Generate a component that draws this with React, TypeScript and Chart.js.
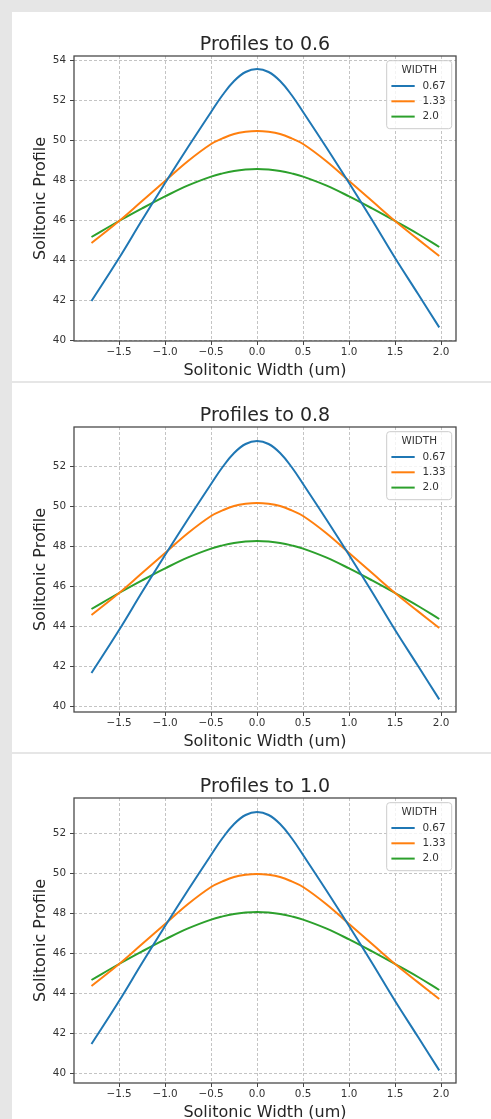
import React, { useEffect, useRef } from 'react';
import { Chart, registerables } from 'chart.js';

Chart.register(...registerables);

const FONT = '"DejaVu Sans", "Liberation Sans", sans-serif';

const xValues = [-1.8, -1.5, -1.25, -1.0, -0.75, -0.5, -0.375, -0.25, -0.125, 0, 0.125, 0.25, 0.375, 0.5, 0.75, 1.0, 1.25, 1.5, 1.75, 1.98];
const seriesLabels = ['0.67', '1.33', '2.0'];
const seriesColors = ['#1f77b4', '#ff7f0e', '#2ca02c'];
const xTicks = [-1.5, -1.0, -0.5, 0, 0.5, 1.0, 1.5, 2.0];
const yTicksTop = [40, 42, 44, 46, 48, 50, 52, 54];
const yTicksLower = [40, 42, 44, 46, 48, 50, 52];
const titles = ['Profiles to 0.6', 'Profiles to 0.8', 'Profiles to 1.0'];
const xAxisLabel = 'Solitonic Width (um)';
const yAxisLabel = 'Solitonic Profile';
const legendTitle = 'WIDTH';

// Profiles to 0.6
const p06W067 = [41.95, 44.1, 46.0, 47.85, 49.65, 51.4, 52.25, 52.95, 53.4, 53.55, 53.4, 52.95, 52.25, 51.4, 49.65, 47.85, 46.0, 44.1, 42.3, 40.63];
const p06W133 = [44.85, 45.95, 46.95, 47.95, 48.95, 49.8, 50.08, 50.3, 50.41, 50.45, 50.41, 50.3, 50.08, 49.8, 48.95, 47.95, 46.95, 45.95, 45.03, 44.2];
const p06W200 = [45.15, 45.95, 46.58, 47.18, 47.73, 48.17, 48.33, 48.45, 48.52, 48.55, 48.52, 48.45, 48.33, 48.17, 47.73, 47.18, 46.58, 45.95, 45.3, 44.65];

// Profiles to 0.8
const p08W067 = [41.65, 43.8, 45.7, 47.55, 49.35, 51.1, 51.95, 52.65, 53.1, 53.25, 53.1, 52.65, 51.95, 51.1, 49.35, 47.55, 45.7, 43.8, 42.0, 40.33];
const p08W133 = [44.55, 45.65, 46.65, 47.65, 48.65, 49.5, 49.78, 50.0, 50.11, 50.15, 50.11, 50.0, 49.78, 49.5, 48.65, 47.65, 46.65, 45.65, 44.73, 43.9];
const p08W200 = [44.85, 45.65, 46.28, 46.88, 47.43, 47.87, 48.03, 48.15, 48.22, 48.25, 48.22, 48.15, 48.03, 47.87, 47.43, 46.88, 46.28, 45.65, 45.0, 44.35];

// Profiles to 1.0
const p10W067 = [41.45, 43.6, 45.5, 47.35, 49.15, 50.9, 51.75, 52.45, 52.9, 53.05, 52.9, 52.45, 51.75, 50.9, 49.15, 47.35, 45.5, 43.6, 41.8, 40.13];
const p10W133 = [44.35, 45.45, 46.45, 47.45, 48.45, 49.3, 49.58, 49.8, 49.91, 49.95, 49.91, 49.8, 49.58, 49.3, 48.45, 47.45, 46.45, 45.45, 44.53, 43.7];
const p10W200 = [44.65, 45.45, 46.08, 46.68, 47.23, 47.67, 47.83, 47.95, 48.02, 48.05, 48.02, 47.95, 47.83, 47.67, 47.23, 46.68, 46.08, 45.45, 44.8, 44.15];

const panelSeries = [
  [p06W067, p06W133, p06W200],
  [p08W067, p08W133, p08W200],
  [p10W067, p10W133, p10W200],
];
const yRanges = [
  [39.95, 54.2],
  [39.7, 53.95],
  [39.5, 53.75],
];
const yTickSets = [yTicksTop, yTicksLower, yTicksLower];

const PANEL_W = 479;
const PANEL_H = 369;

const fmt = (v: number) => (v < 0 ? '\u2212' + Math.abs(v).toFixed(1) : v.toFixed(1));
const fmtInt = (v: number) => String(Math.round(v));

const decorPlugin = {
  id: 'decor',
  afterDraw(chart: any, _args: any, opts: any) {
    const { ctx, chartArea: ca } = chart;
    ctx.save();
    // spines
    ctx.strokeStyle = '#4a4a4a';
    ctx.lineWidth = 1.3;
    ctx.strokeRect(ca.left, ca.top, ca.right - ca.left, ca.bottom - ca.top);
    // title & axis labels
    const cx = (ca.left + ca.right) / 2;
    ctx.fillStyle = '#262626';
    ctx.textAlign = 'center';
    ctx.textBaseline = 'alphabetic';
    ctx.font = `19px ${FONT}`;
    ctx.fillText(opts.title, cx, ca.top - 6);
    ctx.font = `16px ${FONT}`;
    ctx.fillText(xAxisLabel, cx, ca.bottom + 34);
    ctx.save();
    ctx.translate(ca.left - 29, (ca.top + ca.bottom) / 2);
    ctx.rotate(-Math.PI / 2);
    ctx.fillText(yAxisLabel, 0, 0);
    ctx.restore();
    // legend
    const bw = 65;
    const bh = 68;
    const bx = ca.right - 4.3 - bw;
    const by = ca.top + 4.7;
    const r = 3;
    ctx.beginPath();
    ctx.moveTo(bx + r, by);
    ctx.lineTo(bx + bw - r, by);
    ctx.quadraticCurveTo(bx + bw, by, bx + bw, by + r);
    ctx.lineTo(bx + bw, by + bh - r);
    ctx.quadraticCurveTo(bx + bw, by + bh, bx + bw - r, by + bh);
    ctx.lineTo(bx + r, by + bh);
    ctx.quadraticCurveTo(bx, by + bh, bx, by + bh - r);
    ctx.lineTo(bx, by + r);
    ctx.quadraticCurveTo(bx, by, bx + r, by);
    ctx.closePath();
    ctx.fillStyle = 'rgba(255,255,255,0.8)';
    ctx.fill();
    ctx.strokeStyle = '#cccccc';
    ctx.lineWidth = 1;
    ctx.stroke();
    ctx.font = `10.4px ${FONT}`;
    ctx.fillStyle = '#333333';
    ctx.textAlign = 'center';
    ctx.textBaseline = 'middle';
    ctx.fillText(legendTitle, bx + bw / 2, ca.top + 14.7);
    ctx.textAlign = 'left';
    seriesLabels.forEach((lab, i) => {
      const y = ca.top + 30 + i * 15.3;
      ctx.strokeStyle = seriesColors[i];
      ctx.lineWidth = 2;
      ctx.beginPath();
      ctx.moveTo(bx + 4.7, y);
      ctx.lineTo(bx + 28, y);
      ctx.stroke();
      ctx.fillStyle = '#333333';
      ctx.fillText(lab, bx + 35.7, y);
    });
    ctx.restore();
  },
};

function Panel({ index }: { index: number }) {
  const ref = useRef<HTMLCanvasElement | null>(null);
  useEffect(() => {
    if (!ref.current) return;
    const series = panelSeries[index];
    const [yMin, yMax] = yRanges[index];
    const yTicks = yTickSets[index];
    const gridOpts = {
      color: '#c4c4c4',
      lineWidth: 1,
      drawTicks: true,
      tickLength: 4,
      tickColor: '#444444',
      tickWidth: 1,
      tickBorderDash: [],
    };
    const chart = new Chart(ref.current, {
      type: 'line',
      data: {
        datasets: series.map((vals, i) => ({
          label: seriesLabels[i],
          data: xValues.map((x, j) => ({ x, y: vals[j] })),
          borderColor: seriesColors[i],
          backgroundColor: seriesColors[i],
          borderWidth: 2,
          pointRadius: 0,
          fill: false,
          tension: 0.4,
        })),
      },
      options: {
        animation: false,
        responsive: false,
        devicePixelRatio: 1,
        layout: { padding: { top: 44, right: 35, left: 0, bottom: 0 } },
        plugins: {
          legend: { display: false },
          title: { display: false },
          tooltip: { enabled: false },
          decor: { title: titles[index] },
        } as any,
        scales: {
          x: {
            type: 'linear',
            min: -1.99,
            max: 2.162,
            afterBuildTicks: (scale: any) => {
              scale.ticks = xTicks.map((v) => ({ value: v }));
            },
            afterFit: (scale: any) => {
              scale.height = 40;
            },
            grid: gridOpts,
            border: { display: false, dash: [3, 2] },
            ticks: {
              autoSkip: false,
              maxRotation: 0,
              padding: 1,
              color: '#333333',
              font: { family: FONT, size: 10.4 },
              callback: (v: any) => fmt(Number(v)),
            },
          },
          y: {
            type: 'linear',
            min: yMin,
            max: yMax,
            afterBuildTicks: (scale: any) => {
              scale.ticks = yTicks.map((v) => ({ value: v }));
            },
            afterFit: (scale: any) => {
              scale.width = 62;
            },
            grid: gridOpts,
            border: { display: false, dash: [3, 2] },
            ticks: {
              autoSkip: false,
              padding: 4,
              color: '#333333',
              font: { family: FONT, size: 10.4 },
              callback: (v: any) => fmtInt(Number(v)),
            },
          },
        },
      } as any,
      plugins: [decorPlugin as any],
    });
    return () => chart.destroy();
  }, [index]);
  return (
    <div
      style={{
        position: 'absolute',
        left: 12,
        top: 12 + index * 371,
        width: PANEL_W,
        height: PANEL_H,
        background: '#ffffff',
      }}
    >
      <canvas ref={ref} width={PANEL_W} height={PANEL_H} style={{ width: PANEL_W, height: PANEL_H, display: 'block' }} />
    </div>
  );
}

export default function App() {
  return (
    <div
      style={{
        position: 'fixed',
        left: 0,
        top: 0,
        width: 491,
        height: 1119,
        overflow: 'hidden',
        background: '#e6e6e6',
      }}
    >
      {[0, 1, 2].map((i) => (
        <Panel key={i} index={i} />
      ))}
    </div>
  );
}
